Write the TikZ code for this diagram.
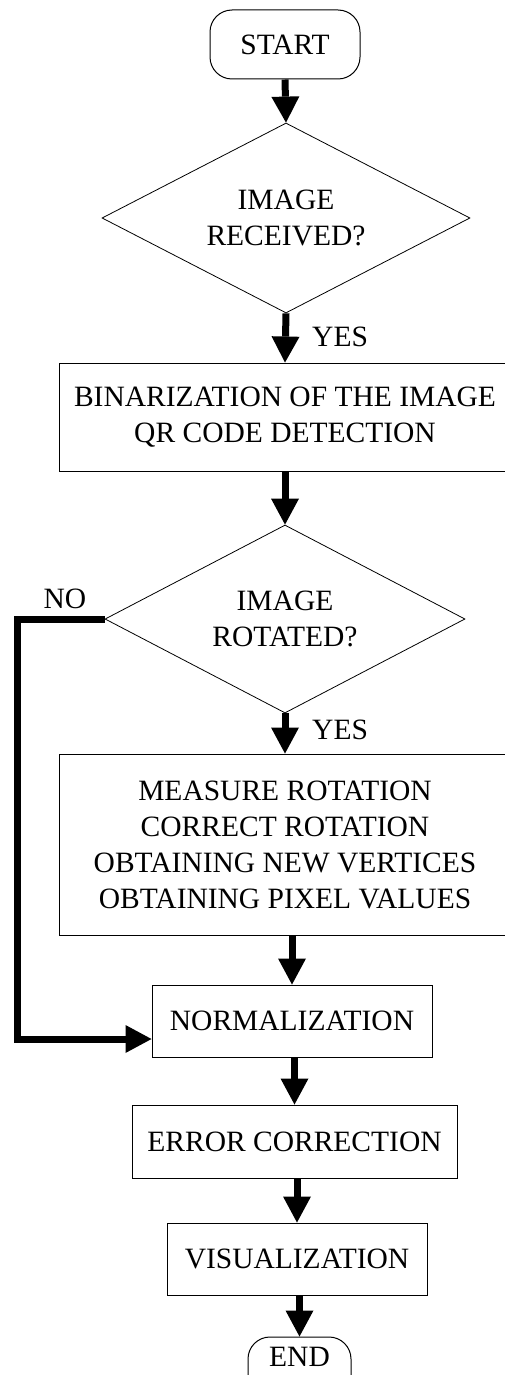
\documentclass[tikz,border=0pt]{standalone}
\usepackage{fontspec}
\setmainfont{Liberation Serif}
\usetikzlibrary{shapes.geometric,arrows.meta}
\begin{document}
\begin{tikzpicture}[x=1pt,y=-1pt,
  txt/.style={font=\fontsize{29.5}{36}\selectfont, align=center, text=black},
  procbox/.style={txt, draw, line width=1pt, rectangle, inner sep=0pt},
  termbox/.style={txt, draw, line width=1pt, rectangle, rounded corners=22pt, inner sep=0pt},
  decision/.style={txt, draw, line width=0.8pt, diamond, aspect=1.94, inner sep=0pt},
  flow/.style={line width=7pt, -{Triangle[width=28pt,length=26pt,line width=0pt]}},
  lbl/.style={font=\fontsize{29.5}{36}\selectfont, inner sep=0pt}
]
\useasboundingbox (0,0) rectangle (505,1375);
\fill[white] (0,0) rectangle (505,1375);
\clip (0,0) rectangle (505,1375);

\node[termbox, minimum width=150pt, minimum height=69pt] (start) at (285,44.5) {START};
\node[decision, minimum width=368pt, minimum height=190pt] (d1) at (286,218) {IMAGE\\RECEIVED?};
\node[procbox, minimum width=452pt, minimum height=108pt] (bin) at (285,417) {BINARIZATION OF THE IMAGE\\QR CODE DETECTION};
\node[decision, minimum width=360pt, minimum height=188pt] (d2) at (285,619) {IMAGE\\ROTATED?};
\node[procbox, minimum width=452pt, minimum height=181pt] (meas) at (285,844.5) {MEASURE ROTATION\\CORRECT ROTATION\\OBTAINING NEW VERTICES\\OBTAINING PIXEL VALUES};
\node[procbox, minimum width=280pt, minimum height=72pt] (norm) at (292,1021) {NORMALIZATION};
\node[procbox, minimum width=325pt, minimum height=73pt] (err) at (294.5,1141.5) {ERROR CORRECTION};
\node[procbox, minimum width=260pt, minimum height=72pt] (vis) at (297,1259) {VISUALIZATION};
\node[termbox, minimum width=103pt, minimum height=69pt, text depth=29pt] (end) at (299.5,1371.5) {END};

\draw[flow] (start.south) -- (d1.north);
\draw[flow] (d1.south) -- (bin.north);
\draw[flow] (bin.south) -- (d2.north);
\draw[flow] (d2.south) -- (meas.north);
\draw[flow] (meas.south -| norm.north) -- (norm.north);
\draw[flow] (norm.south -| err.north) -- (err.north);
\draw[flow] (err.south -| vis.north) -- (vis.north);
\draw[flow] (vis.south -| end.north) -- (end.north);

\coordinate (c1) at (17,619);
\coordinate (c2) at (17,1039);
\draw[flow, line join=miter] (d2.west) -- (c1) -- (c2) -- (c2 -| norm.west);

\node[lbl, anchor=west] (yes1) at (312,337) {YES};
\node[lbl, anchor=west] (yes2) at (312,730) {YES};
\node[lbl] (no) at (65,599) {NO};
\end{tikzpicture}
\end{document}
